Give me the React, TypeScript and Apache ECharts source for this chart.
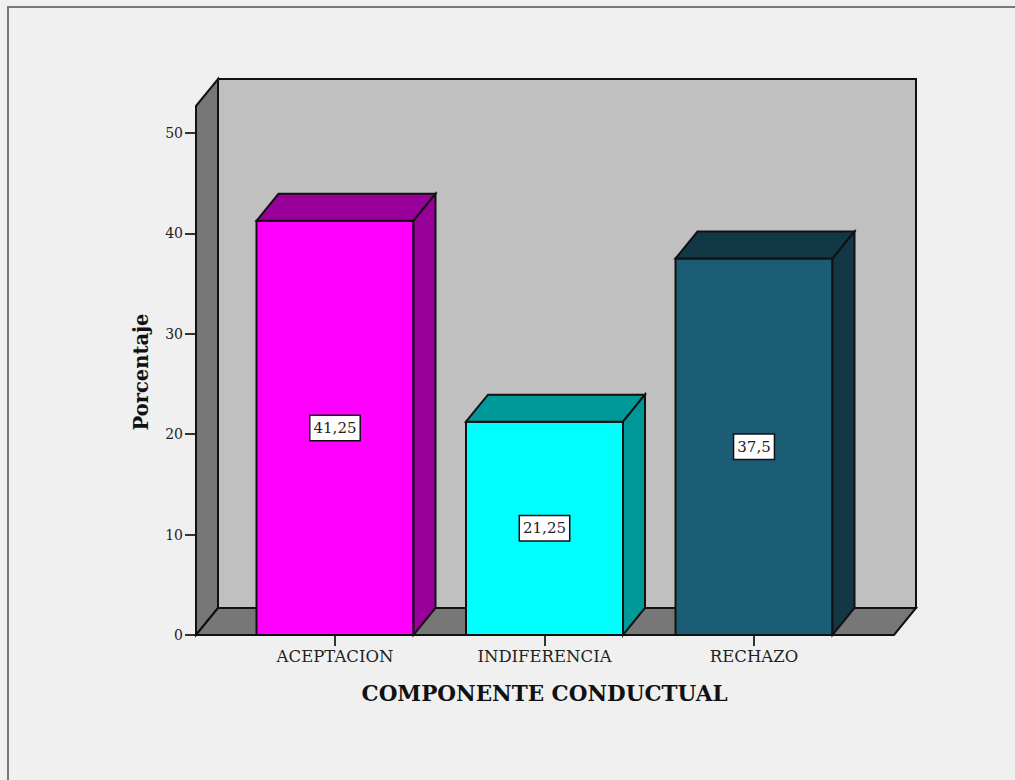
import React, { useEffect, useRef } from "react";
import * as echarts from "echarts";

const categories = ["ACEPTACION", "INDIFERENCIA", "RECHAZO"];
const percentages = [41.25, 21.25, 37.5];
const valueLabels = ["41,25", "21,25", "37,5"];
const frontColors = ["#ff00ff", "#00ffff", "#1b5d74"];
const shadeColors = ["#990099", "#009999", "#123845"];

const DEPTH_X = 22;
const DEPTH_Y = 27;
const OUTLINE = "#111111";
const SERIF = "'DejaVu Serif', serif";

const poly = (points: number[][], fill: string, width = 2) => ({
  type: "polygon",
  shape: { points },
  style: { fill, stroke: OUTLINE, lineWidth: width, lineJoin: "miter" },
});

// Back wall, side wall and floor of the box behind the columns.
const renderWalls = (params: any, api: any) => {
  const cs = params.coordSys;
  const left = 196;
  const right = 894;
  const floor = cs.y + cs.height;
  const top = api.coord([0, 50])[1] - 27;
  return {
    type: "group",
    children: [
      poly(
        [
          [left + DEPTH_X, top - DEPTH_Y],
          [right + DEPTH_X, top - DEPTH_Y],
          [right + DEPTH_X, floor - DEPTH_Y],
          [left + DEPTH_X, floor - DEPTH_Y],
        ],
        "#c0c0c0"
      ),
      poly(
        [
          [left, top],
          [left + DEPTH_X, top - DEPTH_Y],
          [left + DEPTH_X, floor - DEPTH_Y],
          [left, floor],
        ],
        "#777777"
      ),
      poly(
        [
          [left, floor],
          [left + DEPTH_X, floor - DEPTH_Y],
          [right + DEPTH_X, floor - DEPTH_Y],
          [right, floor],
        ],
        "#777777"
      ),
    ],
  };
};

// A column as an extruded box, with its value in a tag at half height.
const renderColumn = (params: any, api: any) => {
  const i = api.value(0);
  const value = api.value(1);
  const [cx, yTop] = api.coord([i, value]);
  const [, yBase] = api.coord([i, 0]);
  const half = 78.5;
  const l = cx - half;
  const r = cx + half;
  const [, yMid] = api.coord([i, value / 2]);
  return {
    type: "group",
    children: [
      poly(
        [
          [l, yBase],
          [r, yBase],
          [r, yTop],
          [l, yTop],
        ],
        frontColors[i]
      ),
      poly(
        [
          [l, yTop],
          [l + DEPTH_X, yTop - DEPTH_Y],
          [r + DEPTH_X, yTop - DEPTH_Y],
          [r, yTop],
        ],
        shadeColors[i]
      ),
      poly(
        [
          [r, yTop],
          [r + DEPTH_X, yTop - DEPTH_Y],
          [r + DEPTH_X, yBase - DEPTH_Y],
          [r, yBase],
        ],
        shadeColors[i]
      ),
      {
        type: "text",
        x: cx,
        y: yMid,
        style: {
          text: valueLabels[i],
          font: `15px ${SERIF}`,
          fill: "#222222",
          align: "center",
          verticalAlign: "middle",
          backgroundColor: "#ffffff",
          borderColor: "#111111",
          borderWidth: 1.5,
          padding: [5, 3, 4, 3],
        },
      },
    ],
  };
};

export default function App() {
  const ref = useRef<HTMLDivElement>(null);

  useEffect(() => {
    document.body.style.margin = "0";
    document.body.style.background = "#f0f0f0";
    const chart = echarts.init(ref.current!, null, { renderer: "svg" });
    chart.setOption({
      animation: false,
      backgroundColor: "#f0f0f0",
      graphic: [
        {
          type: "polyline",
          silent: true,
          shape: {
            points: [
              [8, 780],
              [8, 7],
              [1015, 7],
            ],
          },
          style: { fill: "none", stroke: "#787878", lineWidth: 2 },
        },
      ],
      grid: { left: 230.25, width: 628.5, top: 133, height: 502 },
      xAxis: {
        type: "category",
        data: categories,
        axisLine: { show: false },
        axisTick: {
          show: true,
          alignWithLabel: true,
          length: 11,
          lineStyle: { color: "#333333", width: 2 },
        },
        axisLabel: {
          color: "#222222",
          fontFamily: SERIF,
          fontSize: 16.5,
          margin: 13,
        },
        name: "COMPONENTE CONDUCTUAL",
        nameLocation: "middle",
        nameGap: 47,
        nameTextStyle: {
          color: "#111111",
          fontFamily: SERIF,
          fontSize: 21.5,
          fontWeight: "bold",
        },
      },
      yAxis: {
        type: "value",
        min: 0,
        max: 50,
        interval: 10,
        offset: 34.25,
        splitLine: { show: false },
        axisLine: { show: false },
        axisTick: {
          show: true,
          length: 11,
          lineStyle: { color: "#333333", width: 2 },
        },
        axisLabel: {
          color: "#222222",
          fontFamily: SERIF,
          fontSize: 14,
          margin: 13,
        },
        name: "Porcentaje",
        nameLocation: "middle",
        nameGap: 45,
        nameTextStyle: {
          color: "#111111",
          fontFamily: SERIF,
          fontSize: 19.5,
          fontWeight: "bold",
          padding: [0, 0, 0, 24],
        },
      },
      series: [
        {
          type: "custom",
          silent: true,
          z: 1,
          clip: false,
          renderItem: renderWalls,
          data: [[0, 0]],
        },
        {
          type: "custom",
          silent: true,
          z: 2,
          clip: false,
          renderItem: renderColumn,
          encode: { x: 0, y: 1 },
          data: percentages.map((v, i) => [i, v]),
        },
      ],
    });
    return () => chart.dispose();
  }, []);

  return (
    <div
      ref={ref}
      style={{ position: "absolute", left: 0, top: 0, width: 1015, height: 780 }}
    />
  );
}
